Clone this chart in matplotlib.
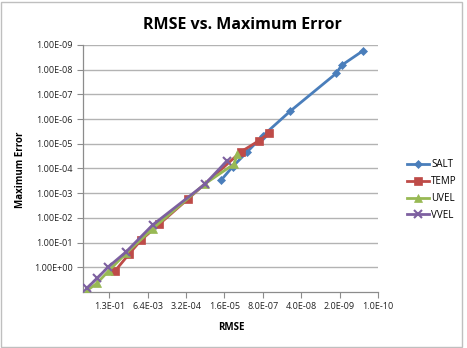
import matplotlib
matplotlib.use("Agg")
import matplotlib.pyplot as plt
from matplotlib.patches import Rectangle

# ---- data ----
series_names = ["SALT", "TEMP", "UVEL", "VVEL"]

salt_rmse = [2.1e-5, 8.5e-6, 2.8e-6, 8.1e-7, 9.5e-8, 2.6e-9, 1.7e-9, 3.2e-10]
salt_maxerr = [3.0e-4, 8.5e-5, 2.2e-5, 4.8e-6, 4.8e-7, 1.4e-8, 6.6e-9, 1.7e-9]

temp_rmse = [8.2e-2, 2.75e-2, 1.07e-2, 2.6e-3, 2.75e-4, 4.4e-6, 1.07e-6, 4.9e-7]
temp_maxerr = [1.41, 0.29, 7.8e-2, 1.8e-2, 1.7e-3, 2.1e-5, 7.4e-6, 3.6e-6]

uvel_rmse = [0.73, 0.335, 0.132, 3.5e-2, 4.3e-3, 7.2e-5, 7.6e-6, 5.8e-6]
uvel_maxerr = [8.7, 4.4, 1.35, 0.275, 2.7e-2, 4.1e-4, 6.6e-5, 2.6e-5]

vvel_rmse = [0.73, 0.335, 0.141, 3.5e-2, 4.4e-3, 7.2e-5, 1.3e-5]
vvel_maxerr = [6.9, 2.8, 0.98, 0.24, 1.95e-2, 4.2e-4, 4.8e-5]

x_ticks = [1e-10 * 20 ** k for k in range(8)]
y_ticks = [10.0 ** (-k) for k in range(10)]

title = "RMSE vs. Maximum Error"
xlabel = "RMSE"
ylabel = "Maximum Error"

# ---- figure ----
W, H = 467, 348
fig = plt.figure(figsize=(W / 100, H / 100), dpi=100)
plt.rcParams['font.family'] = ['Open Sans', 'DejaVu Sans']

# outer chart border
fig.patches.append(Rectangle((1 / W, 1 / H), (462 - 1) / W, (H - 3) / H,
                             transform=fig.transFigure, fill=False,
                             edgecolor='#bfbfbf', linewidth=1.0))

ax = fig.add_axes([83 / W, 1 - 292 / H, (378 - 83) / W, (292 - 45) / H])

colors = ['#4A7EBB', '#BE4B48', '#98B954', '#7D60A0']
markers = ['D', 's', '^', 'x']
msizes = [4.5, 6, 6, 6]
data = [(salt_rmse, salt_maxerr), (temp_rmse, temp_maxerr),
        (uvel_rmse, uvel_maxerr), (vvel_rmse, vvel_maxerr)]

for (xs, ys), name, c, m, ms in zip(data, series_names, colors, markers, msizes):
    ax.plot(xs, ys, color=c, marker=m, markersize=ms, linewidth=2.0,
            markeredgewidth=1.5 if m == 'x' else 0.5, markeredgecolor=c,
            label=name, zorder=3)

ax.set_xscale('log')
ax.set_yscale('log')
ax.set_xlim(1.0, 1e-10)
ax.set_ylim(10.0, 1e-9)

ax.set_xticks(x_ticks)
ax.set_xticklabels(['{:.1E}'.format(v) for v in x_ticks])
ax.set_yticks(y_ticks)
ax.set_yticklabels(['{:.2E}'.format(v) for v in y_ticks])
ax.minorticks_off()
ax.xaxis.set_minor_locator(matplotlib.ticker.NullLocator())
ax.yaxis.set_minor_locator(matplotlib.ticker.NullLocator())

ax.tick_params(axis='both', labelsize=6.5, colors='#8c8c8c', labelcolor='#222222',
               length=4, width=0.8, direction='out')
ax.grid(axis='y', color='#b3b3b3', linewidth=1.0)
ax.set_axisbelow(True)
for s in ['top', 'right']:
    ax.spines[s].set_visible(False)
for s in ['left', 'bottom']:
    ax.spines[s].set_color('#8c8c8c')
    ax.spines[s].set_linewidth(0.9)

fig.text(242 / W, 1 - 25 / H, title, ha='center', va='center',
         fontsize=11.5, fontweight='bold')
fig.text(231 / W, 1 - 328 / H, xlabel, ha='center', va='center',
         fontsize=7, fontweight='bold')
fig.text(21 / W, 1 - 170 / H, ylabel, ha='center', va='center',
         fontsize=7, fontweight='bold', rotation=90)

leg = ax.legend(loc='center left', bbox_to_anchor=(403 / W, 1 - 190 / H),
                bbox_transform=fig.transFigure, frameon=False, fontsize=7,
                handlelength=2.3, handletextpad=0.2, labelspacing=0.6,
                borderaxespad=0)

fig.savefig('out.png', dpi=100)
